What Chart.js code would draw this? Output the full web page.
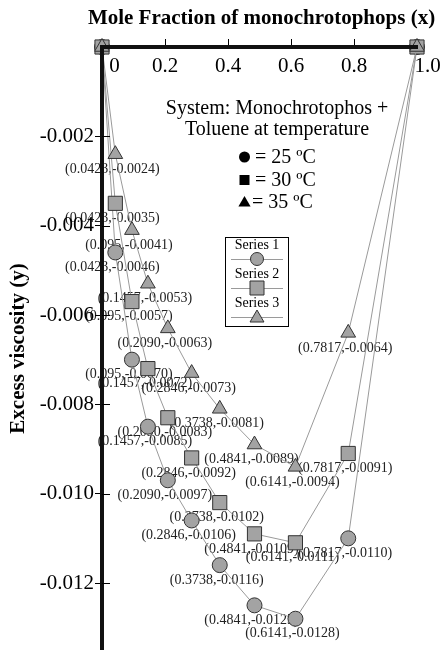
<!DOCTYPE html>
<html>
<head>
<meta charset="utf-8">
<title>Excess viscosity</title>
<script src="https://cdn.jsdelivr.net/npm/chart.js@4.4.0/dist/chart.umd.min.js"></script>
<style>
  html, body { margin: 0; padding: 0; background: #fff; }
  #wrap { width: 443px; height: 650px; }
</style>
</head>
<body>
<div id="wrap"><canvas id="myChart"></canvas></div>
<script>
"use strict";
// mole fraction of monochrotophos, written as on the labels
const moleFraction = ['0', '0.0423', '0.095', '0.1457', '0.2090', '0.2846', '0.3738', '0.4841', '0.6141', '0.7817', '1'];

// excess viscosity at each temperature
const visc25 = [0, -0.0046, -0.0070, -0.0085, -0.0097, -0.0106, -0.0116, -0.0125, -0.0128, -0.0110, 0];
const visc30 = [0, -0.0035, -0.0057, -0.0072, -0.0083, -0.0092, -0.0102, -0.0109, -0.0111, -0.0091, 0];
const visc35 = [0, -0.0024, -0.0041, -0.0053, -0.0063, -0.0073, -0.0081, -0.0089, -0.0094, -0.0064, 0];

const seriesNames = ['Series 1', 'Series 2', 'Series 3'];
const tempLines = ['= 25 ºC', '= 30 ºC', '= 35 ºC'];
const xTitle = 'Mole Fraction of monochrotophops (x)';

const serif = "'Liberation Serif', 'DejaVu Serif', serif";
const markFill = '#a3a3a3';
const markLine = '#333';
const lineGray = '#9a9a9a';

function points(values) {
    return values.map((v, i) => ({ x: parseFloat(moleFraction[i]), y: v }));
}

function drawMarker(ctx, style, x, y, r) {
    ctx.beginPath();
    if (style === 'circle') {
        ctx.arc(x, y, r, 0, Math.PI * 2);
    } else if (style === 'rect') {
        ctx.rect(x - r, y - r, r * 2, r * 2);
    } else {
        ctx.moveTo(x, y - r);
        ctx.lineTo(x + r * 0.87, y + r * 0.5);
        ctx.lineTo(x - r * 0.87, y + r * 0.5);
        ctx.closePath();
    }
}

// "(x,y)" under every inner point, drawn first so axes and marks sit on top
const pointLabels = {
    id: 'pointLabels',
    beforeDraw(chart) {
        const ctx = chart.ctx;
        ctx.save();
        ctx.font = '14px ' + serif;
        ctx.fillStyle = '#222';
        ctx.textAlign = 'center';
        ctx.textBaseline = 'middle';
        chart.data.datasets.forEach((ds, d) => {
            const meta = chart.getDatasetMeta(d);
            meta.data.forEach((pt, i) => {
                if (i === 0 || i === meta.data.length - 1) return;
                const txt = '(' + moleFraction[i] + ',' + ds.data[i].y.toFixed(4) + ')';
                ctx.fillText(txt, pt.x - 3, pt.y + 15);
            });
        });
        ctx.restore();
    }
};

// y ticks cross the axis line, and the x title (the built-in one gets squeezed)
const axisExtras = {
    id: 'axisExtras',
    afterDraw(chart) {
        const ctx = chart.ctx;
        const y = chart.scales.y;
        const x = chart.scales.x;
        ctx.save();
        ctx.strokeStyle = '#000';
        ctx.lineWidth = 1;
        y.ticks.forEach(t => {
            if (t.value === 0) return;
            const py = Math.round(y.getPixelForValue(t.value)) + 0.5;
            ctx.beginPath();
            ctx.moveTo(y.right, py);
            ctx.lineTo(y.right + 8, py);
            ctx.stroke();
        });
        ctx.fillStyle = '#000';
        ctx.font = 'bold 21px ' + serif;
        ctx.textAlign = 'center';
        ctx.textBaseline = 'middle';
        ctx.fillText(xTitle, (x.left + x.right) / 2 + 2, 19);
        ctx.restore();
    }
};

// system note and the small boxed legend
const notes = {
    id: 'notes',
    afterDraw(chart) {
        const ctx = chart.ctx;
        ctx.save();
        ctx.fillStyle = '#000';
        ctx.font = '20px ' + serif;
        ctx.textAlign = 'center';
        ctx.textBaseline = 'middle';
        ctx.fillText('System: Monochrotophos +', 277, 109);
        ctx.fillText('Toluene at temperature', 277, 130);

        const symY = [157, 180, 202];
        const symStyle = ['circle', 'rect', 'triangle'];
        const symR = [5.5, 5, 7];
        ctx.textAlign = 'left';
        symY.forEach((sy, i) => {
            drawMarker(ctx, symStyle[i], 244.5, sy + (i === 2 ? 1 : 0), symR[i]);
            ctx.fill();
            ctx.fillText(tempLines[i], i === 2 ? 252 : 255, sy + 1);
        });

        // legend box
        ctx.fillStyle = '#fff';
        ctx.fillRect(225, 237, 63, 89);
        ctx.strokeStyle = '#000';
        ctx.lineWidth = 1;
        ctx.strokeRect(225.5, 237.5, 63, 89);
        const rows = [245, 274, 303];
        const legR = [6.5, 7, 8];
        ctx.font = '14px ' + serif;
        ctx.textAlign = 'center';
        rows.forEach((ry, i) => {
            ctx.fillStyle = '#000';
            ctx.fillText(seriesNames[i], 257, ry);
            ctx.strokeStyle = lineGray;
            ctx.beginPath();
            ctx.moveTo(231, ry + 14.5);
            ctx.lineTo(283, ry + 14.5);
            ctx.stroke();
            drawMarker(ctx, symStyle[i], 257, ry + 14 + (i === 2 ? 1 : 0), legR[i]);
            ctx.fillStyle = markFill;
            ctx.fill();
            ctx.strokeStyle = markLine;
            ctx.stroke();
        });
        ctx.restore();
    }
};

function series(label, values, style, radius, order) {
    return {
        label: label,
        data: points(values),
        showLine: true,
        borderColor: lineGray,
        borderWidth: 1,
        pointStyle: style,
        pointRadius: radius,
        pointBackgroundColor: markFill,
        pointBorderColor: markLine,
        pointBorderWidth: 1,
        clip: false,
        order: order
    };
}

const dataVisc = {
    datasets: [
        series(seriesNames[0], visc25, 'circle', 7.5, 2),
        series(seriesNames[1], visc30, 'rect', 10, 1),
        series(seriesNames[2], visc35, 'triangle', 8.5, 0)
    ]
};

const configVisc = {
    type: 'line',
    data: dataVisc,
    options: {
        responsive: true,
        maintainAspectRatio: false,
        animation: false,
        layout: {
            autoPadding: false,
            padding: { left: 0, right: 26, top: 0, bottom: 0 }
        },
        plugins: {
            legend: { display: false },
            tooltip: { enabled: false }
        },
        scales: {
            x: {
                type: 'linear',
                position: 'top',
                min: 0,
                max: 1,
                afterFit(scale) {
                    scale.height = 47;
                    scale.paddingLeft = 0;
                    scale.paddingRight = 0;
                },
                border: { display: true, width: 4, color: '#111', z: 1 },
                grid: { drawOnChartArea: false, tickLength: 8, color: '#000', lineWidth: 1 },
                ticks: {
                    stepSize: 0.2,
                    mirror: true,
                    padding: 7,
                    color: '#000',
                    font: { family: serif, size: 21 },
                    callback(v) {
                        if (v === 0) return '\u2002\u2002\u20090';
                        if (v === 1) return '\u2002\u20021.0';
                        return v.toFixed(1);
                    }
                }
            },
            y: {
                type: 'linear',
                position: 'left',
                min: -0.0135,
                max: 0,
                afterFit(scale) {
                    scale.width = 102;
                    scale.paddingTop = 0;
                    scale.paddingBottom = 0;
                },
                border: { display: true, width: 4, color: '#111', z: 1 },
                grid: {
                    drawOnChartArea: false,
                    tickLength: 7,
                    lineWidth: 1,
                    color: ctx => (ctx.tick && ctx.tick.value === 0 ? 'rgba(0,0,0,0)' : '#000')
                },
                ticks: {
                    stepSize: 0.002,
                    includeBounds: false,
                    padding: 1,
                    color: '#000',
                    font: { family: serif, size: 21 },
                    callback(v) { return Math.abs(v) < 1e-9 ? '' : v.toFixed(3); }
                },
                title: {
                    display: true,
                    text: 'Excess viscosity (y)',
                    color: '#000',
                    font: { family: serif, size: 21, weight: 'bold' },
                    padding: { top: 6, bottom: 0 }
                }
            }
        }
    },
    plugins: [pointLabels, axisExtras, notes]
};

const myChart = new Chart(document.getElementById('myChart'), configVisc);
</script>
</body>
</html>
